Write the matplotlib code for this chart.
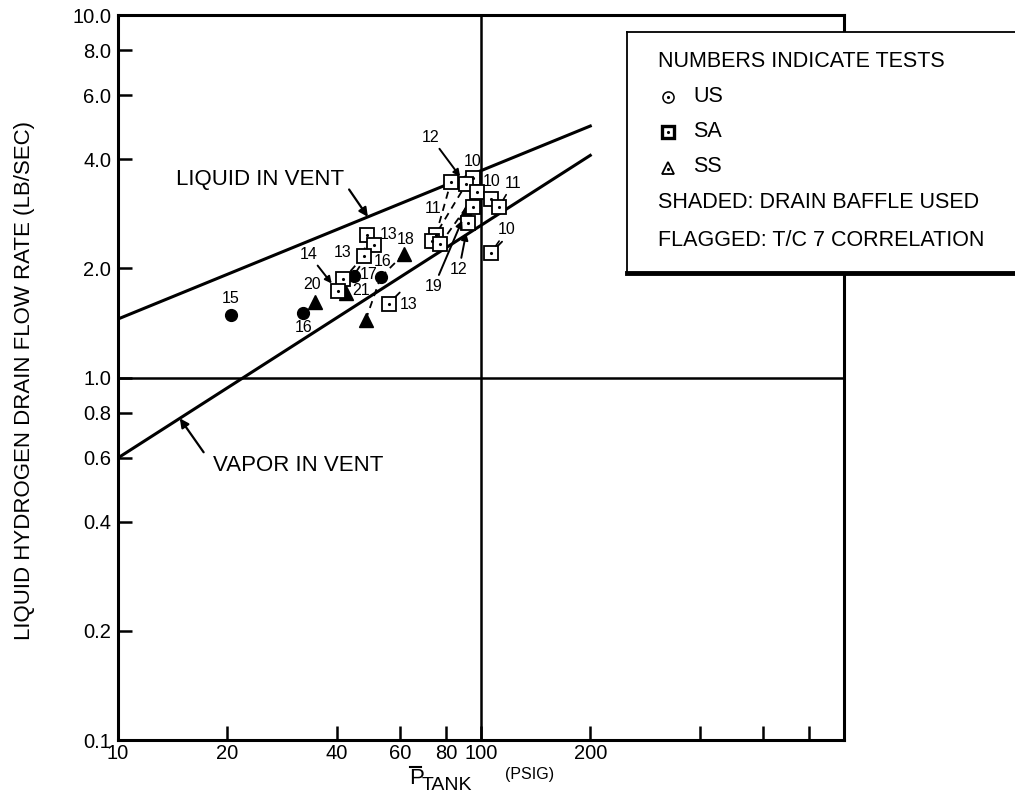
import numpy as np
import matplotlib
matplotlib.use('Agg')
import matplotlib.pyplot as plt
from matplotlib.lines import Line2D
from matplotlib.ticker import FixedLocator, FixedFormatter, NullLocator

plt.rcParams['font.family'] = ['Liberation Sans', 'DejaVu Sans']

W, H, DPI = 1015, 810, 100

# correlation lines (end points)
liquid_x = [10, 200]
liquid_y = [1.45, 4.94]
vapor_x = [10, 200]
vapor_y = [0.60, 4.10]

# US runs, drain baffle used (filled circles)
us_x = [20.5, 32.4, 44.6, 52.9]
us_y = [1.49, 1.51, 1.91, 1.89]
us_tests = ['15', '16', '17', '16']

# SA runs (open squares)
sa_x = [82.6, 95.0, 90.9, 97.5, 95.0, 92.1, 106.6, 112.0, 106.6,
        75.1, 73.2, 77.1, 48.4, 50.6, 47.5, 41.8, 40.3, 55.7]
sa_y = [3.46, 3.55, 3.41, 3.24, 2.95, 2.66, 3.10, 2.95, 2.21,
        2.47, 2.38, 2.33, 2.47, 2.32, 2.16, 1.87, 1.73, 1.60]
sa_tests = ['', '10', '12', '', '', '12', '10', '11', '10',
            '11', '', '', '13', '', '13', '', '14', '13']

# SS runs, drain baffle used (filled triangles)
ss_x = [61.3, 42.6, 35.0, 48.1, 90.9]
ss_y = [2.19, 1.71, 1.62, 1.44, 2.87]
ss_tests = ['18', '21', '20', '', '19']

x_ticks = [10, 20, 40, 60, 80, 100, 200, 400, 600, 800]
x_labels = ['10', '20', '40', '60', '80', '100', '200', '', '', '']
y_ticks = [0.1, 0.2, 0.4, 0.6, 0.8, 1.0, 2.0, 4.0, 6.0, 8.0, 10.0]
y_labels = ['0.1', '0.2', '0.4', '0.6', '0.8', '1.0', '2.0', '4.0', '6.0', '8.0', '10.0']

series = {'us': (us_x, us_y, us_tests),
          'sa': (sa_x, sa_y, sa_tests),
          'ss': (ss_x, ss_y, ss_tests)}

# label placement, pixel offsets from the point: (dx, dy down, kind)
label_offsets = {
    ('us', 0): (-1, -16, 'plain'), ('us', 1): (0, 15, 'plain'),
    ('us', 2): (15, -1, 'plain'), ('us', 3): (2, -16, 'plain'),
    ('sa', 1): (0, -17, 'plain'), ('sa', 2): (-35, -47, 'arrow'),
    ('sa', 5): (-9, 46, 'arrow'), ('sa', 6): (1, -18, 'plain'),
    ('sa', 7): (14, -24, 'leader'), ('sa', 8): (16, -23, 'leader'),
    ('sa', 9): (-3, -27, 'plain'), ('sa', 12): (22, -1, 'plain'),
    ('sa', 14): (-21, -4, 'plain'), ('sa', 16): (-29, -37, 'arrow'),
    ('sa', 17): (20, 1, 'plain'),
    ('ss', 0): (2, -15, 'plain'), ('ss', 1): (15, -3, 'plain'),
    ('ss', 2): (-3, -17, 'plain'), ('ss', 4): (-32, 75, 'arrow'),
}
# dashed links between related points
links = [(('sa', 9), ('sa', 0)), (('sa', 10), ('sa', 2)), (('sa', 11), ('sa', 3)),
         (('sa', 12), ('sa', 14)), (('sa', 14), ('sa', 15)), (('sa', 13), ('us', 2)),
         (('ss', 0), ('us', 3)), (('us', 3), ('ss', 3))]
flags = [('sa', 17), ('sa', 8)]


def pt(key):
    xs, ys, _ = series[key[0]]
    return xs[key[1]], ys[key[1]]


def on_line(xs, ys, x):
    return 10 ** np.interp(np.log10(x), np.log10(xs), np.log10(ys))


fig = plt.figure(figsize=(W / DPI, H / DPI), dpi=DPI)
ax = fig.add_axes([118 / W, 70 / H, 726 / W, 725 / H])
ax.set_xscale('log')
ax.set_yscale('log')
ax.set_xlim(10, 1000)
ax.set_ylim(0.1, 10)

ax.xaxis.set_major_locator(FixedLocator(x_ticks))
ax.xaxis.set_major_formatter(FixedFormatter(x_labels))
ax.yaxis.set_major_locator(FixedLocator(y_ticks))
ax.yaxis.set_major_formatter(FixedFormatter(y_labels))
ax.xaxis.set_minor_locator(NullLocator())
ax.yaxis.set_minor_locator(NullLocator())
ax.tick_params(direction='in', length=10, width=1.8, labelsize=14.5, pad=5,
               top=False, right=False, colors='black')
ax.tick_params(axis='x', pad=3)
for s in ax.spines.values():
    s.set_linewidth(2.2)

ax.axvline(100, color='black', lw=1.8, zorder=1)
ax.axhline(1.0, color='black', lw=1.8, zorder=1)

ax.plot(liquid_x, liquid_y, color='black', lw=2.2, zorder=2)
ax.plot(vapor_x, vapor_y, color='black', lw=2.2, zorder=2)

for a, b in links:
    (x0, y0), (x1, y1) = pt(a), pt(b)
    ax.plot([x0, x1], [y0, y1], color='black', lw=1.3, ls=(0, (4, 3)), zorder=3)

for key in flags:
    ax.annotate('', xy=pt(key), xytext=(11, 11), textcoords='offset pixels',
                arrowprops=dict(arrowstyle='-', lw=1.3, color='black',
                                shrinkA=0, shrinkB=6), zorder=3)

ax.plot(us_x, us_y, 'o', ms=8.5, color='black', zorder=4)
ax.plot(ss_x, ss_y, '^', ms=9.5, color='black', zorder=4)
ax.plot(sa_x, sa_y, 's', ms=10, mfc='white', mec='black', mew=1.3, zorder=4)
ax.plot(sa_x, sa_y, '.', ms=2.5, color='black', zorder=5)

for key, (dx, dy, kind) in label_offsets.items():
    txt = series[key[0]][2][key[1]]
    props = None
    if kind == 'arrow':
        props = dict(arrowstyle='-|>', lw=1.4, color='black', mutation_scale=10,
                     shrinkA=1, shrinkB=7)
    elif kind == 'leader':
        props = dict(arrowstyle='-', lw=1.2, color='black', shrinkA=1, shrinkB=6)
    ax.annotate(txt, xy=pt(key), xytext=(dx, -dy), textcoords='offset pixels',
                ha='center', va='center', fontsize=11.5, arrowprops=props, zorder=6)

# line captions
lx = 48.8
ax.annotate('LIQUID IN VENT', xy=(lx, on_line(liquid_x, liquid_y, lx)),
            xytext=(-108, 37), textcoords='offset pixels', ha='center', va='center',
            fontsize=16, arrowprops=dict(arrowstyle='-|>', lw=1.6, color='black',
                                         mutation_scale=13, relpos=(1.0, 0.4),
                                         shrinkA=3, shrinkB=0))
vx = 14.8
ax.annotate('VAPOR IN VENT', xy=(vx, on_line(vapor_x, vapor_y, vx)),
            xytext=(33, -47), textcoords='offset pixels', ha='left', va='center',
            fontsize=16, arrowprops=dict(arrowstyle='-|>', lw=1.6, color='black',
                                         mutation_scale=13, relpos=(0.0, 0.5),
                                         shrinkA=8, shrinkB=0))

fig.text(25 / W, 1 - 380 / H, 'LIQUID HYDROGEN DRAIN FLOW RATE (LB/SEC)',
         rotation=90, ha='center', va='center', fontsize=16)
# x axis title: P-bar with TANK subscript and (PSIG)
fig.text(409 / W, 1 - 779 / H, 'P', ha='left', va='center', fontsize=16)
fig.add_artist(Line2D([410 / W, 421 / W], [1 - 767 / H, 1 - 767 / H],
                      color='black', lw=1.5))
fig.text(422 / W, 1 - 786 / H, 'TANK', ha='left', va='center', fontsize=14)
fig.text(505 / W, 1 - 775 / H, '(PSIG)', ha='left', va='center', fontsize=11.5)

# legend box
lax = fig.add_axes([627 / W, 1 - 273 / H, 400 / W, 241 / H])
lax.set_xlim(0, 400)
lax.set_ylim(241, 0)
lax.set_xticks([])
lax.set_yticks([])
lax.spines['right'].set_visible(False)
lax.spines['left'].set_linewidth(1.3)
lax.spines['top'].set_linewidth(1.3)
lax.spines['bottom'].set_linewidth(3.5)

lax.text(31, 30, 'NUMBERS INDICATE TESTS', fontsize=15.5, va='center')
lax.plot([41], [65], 'o', ms=8, mfc='white', mec='black', mew=1.1)
lax.plot([41], [100], 's', ms=9, mfc='white', mec='black', mew=2.4)
lax.plot([41], [136], '^', ms=8, mfc='white', mec='black', mew=1.3)
lax.plot([41, 41, 41], [65, 100, 137], '.', ms=2.5, color='black')
lax.text(66, 65, 'US', fontsize=15.5, va='center')
lax.text(66, 100, 'SA', fontsize=15.5, va='center')
lax.text(66, 135, 'SS', fontsize=15.5, va='center')
lax.text(31, 171, 'SHADED: DRAIN BAFFLE USED', fontsize=15.5, va='center')
lax.text(31, 208, 'FLAGGED: T/C 7 CORRELATION', fontsize=15.5, va='center')

fig.savefig('out.png', dpi=DPI)
